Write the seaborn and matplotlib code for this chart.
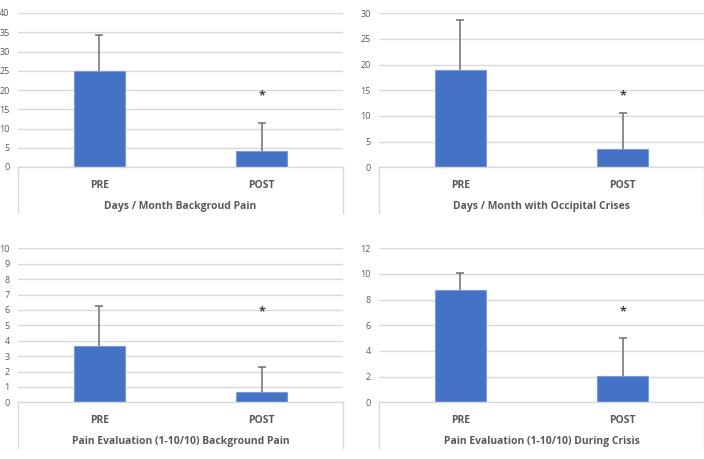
import matplotlib
matplotlib.use("Agg")
import matplotlib.pyplot as plt
import seaborn as sns
import pandas as pd
from matplotlib.lines import Line2D

sns.set_theme(style="white")
plt.rcParams['font.family'] = ['Open Sans', 'DejaVu Sans']

# ---- data ----
categories = ["PRE", "POST"]
titles = [
    "Days / Month Backgroud Pain",
    "Days / Month with Occipital Crises",
    "Pain Evaluation (1-10/10) Background Pain",
    "Pain Evaluation (1-10/10) During Crisis",
]
means = [
    [25.0, 4.2],
    [19.0, 3.6],
    [3.65, 0.67],
    [8.75, 2.05],
]
upper_err = [
    [9.4, 7.15],
    [9.6, 7.05],
    [2.62, 1.6],
    [1.35, 2.94],
]
star_y = [18.4, 13.9, 5.88, 7.06]
y_max = [40, 30, 10, 12]
y_step = [5, 5, 1, 2]

BAR = "#4472C4"
EDGE = "#7A9CDB"
GRID = "#D9D9D9"
TXT = "#595959"

W, H = 704, 459
fig = plt.figure(figsize=(W / 100, H / 100), dpi=100)
fig.patch.set_facecolor("white")

# axes boxes in pixels: (left, right, top, bottom, box_bottom)
boxes = [
    (18, 343, 13, 167, 213),
    (379, 704, 13.3, 167.3, 213),
    (18, 343, 248.3, 402.3, 448),
    (379, 704, 248.3, 402.3, 448),
]

for i, (l, r, t, b, bb) in enumerate(boxes):
    ax = fig.add_axes([l / W, 1 - b / H, (r - l) / W, (b - t) / H])
    df = pd.DataFrame({"cat": categories, "val": means[i]})
    sns.barplot(data=df, x="cat", y="val", ax=ax, color=BAR, width=0.314,
                saturation=1, edgecolor=EDGE, linewidth=0.8, errorbar=None)
    _, caps, _ = ax.errorbar(range(len(categories)), means[i],
                             yerr=[[0] * len(categories), upper_err[i]],
                             fmt="none", ecolor="#6E6E6E", elinewidth=1.1,
                             capsize=3, capthick=1.1, zorder=1)
    if len(caps) == 2:
        caps[0].set_visible(False)
    for bar in ax.patches:
        bar.set_zorder(2)
    ax.text(1, star_y[i], "*", ha="center", va="center", fontsize=9,
            fontweight="bold", color="#404040")
    ax.set_xlim(-0.5, 1.5)
    ax.set_ylim(0, y_max[i])
    ticks = list(range(0, y_max[i] + 1, y_step[i]))
    ax.set_yticks(ticks)
    ax.set_yticklabels([str(v) for v in ticks], fontsize=6.5, color=TXT)
    ax.yaxis.grid(True, color=GRID, linewidth=1)
    ax.set_axisbelow(True)
    for s in ["top", "left", "right"]:
        ax.spines[s].set_visible(False)
    ax.spines["bottom"].set_color(GRID)
    ax.spines["bottom"].set_linewidth(1)
    ax.tick_params(axis="both", length=0)
    ax.tick_params(axis="y", pad=6)
    ax.set_xticks(range(len(categories)))
    ax.set_xticklabels(categories, fontsize=7.5, fontweight="bold", color=TXT)
    ax.tick_params(axis="x", pad=9)
    ax.set_xlabel("")
    ax.set_ylabel("")
    fig.text(((l + r) / 2) / W, 1 - (b + 39) / H, titles[i], ha="center",
             va="center", fontsize=7.5, fontweight="bold", color=TXT)
    for xp in (l, r):
        fig.add_artist(Line2D([xp / W, xp / W], [1 - b / H, 1 - bb / H],
                              transform=fig.transFigure, color=GRID, linewidth=1))

fig.savefig("out.png", dpi=100, facecolor="white")
